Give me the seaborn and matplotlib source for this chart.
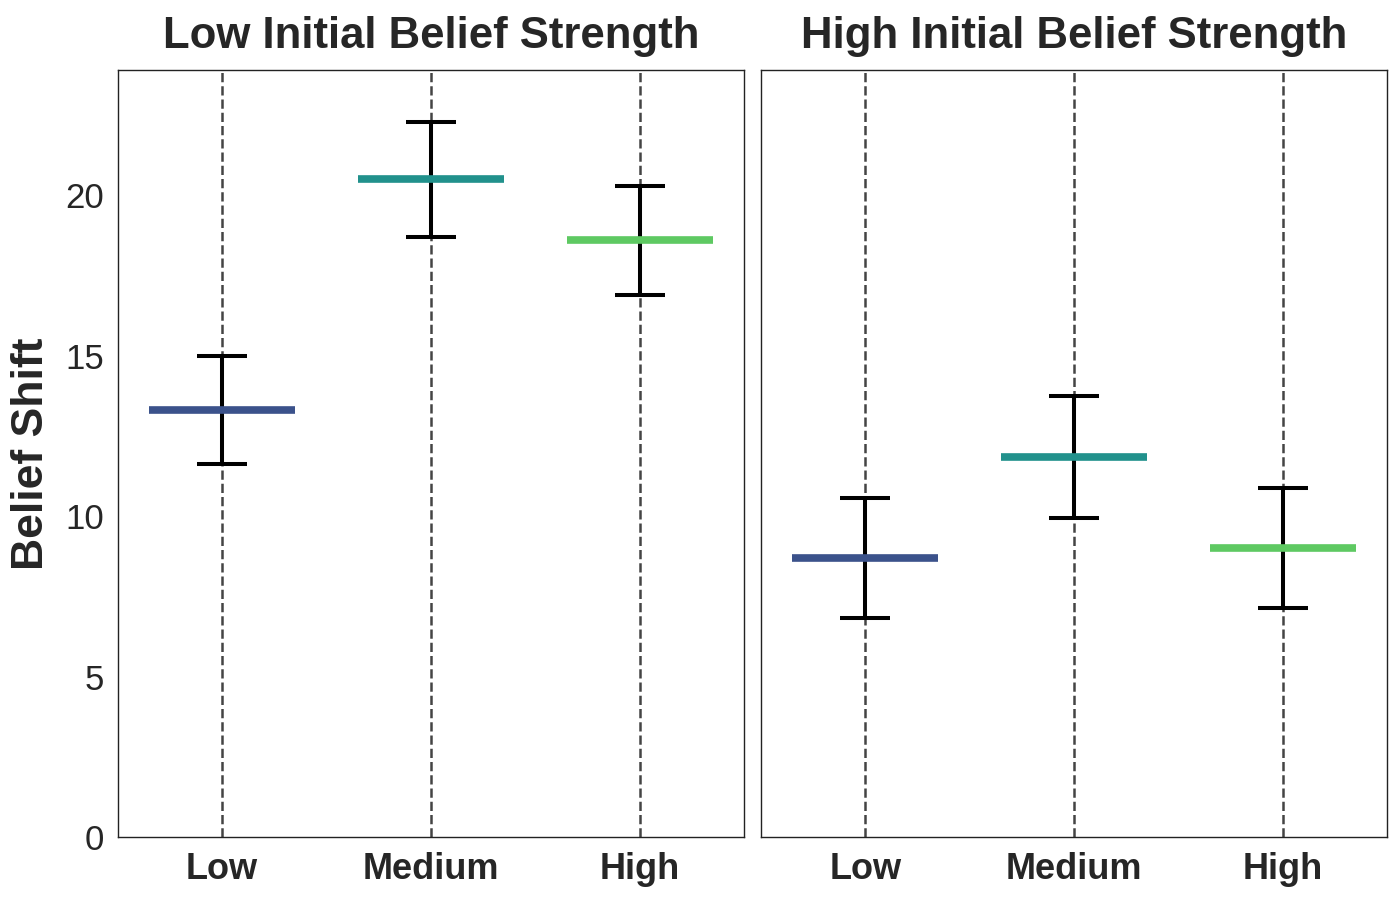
import numpy as np
import matplotlib
matplotlib.use('Agg')
import matplotlib.pyplot as plt
import seaborn as sns

# ── Data ──────────────────────────────────────────────
PANELS      = ['Low Initial Belief Strength', 'High Initial Belief Strength']
CATEGORIES  = ['Low', 'Medium', 'High']
MEANS_LOW   = [13.3, 20.5, 18.6]
ERR_LOW     = [1.68, 1.8, 1.7]
MEANS_HIGH  = [8.7, 11.85, 9.0]
ERR_HIGH    = [1.87, 1.9, 1.87]
COLORS      = ['#3b528b', '#21918c', '#5ec962']

sns.set_theme(style='white')
plt.rcParams['font.family'] = ['Liberation Sans', 'DejaVu Sans']

fig, axes = plt.subplots(1, 2, figsize=(14, 9), sharey=True)
x = np.arange(len(CATEGORIES))

for ax, title, means, errs in zip(axes, PANELS,
                                  [MEANS_LOW, MEANS_HIGH], [ERR_LOW, ERR_HIGH]):
    for xi in x:
        ax.axvline(xi, color='#444444', linestyle='--', linewidth=1.8, zorder=1)
    ax.errorbar(x, means, yerr=errs, fmt='none', ecolor='black',
                elinewidth=2.9, capsize=18, capthick=2.9, zorder=2)
    ax.hlines(means, x - 0.35, x + 0.35, colors=COLORS, linewidth=5.5, zorder=3)
    ax.set_title(title, fontsize=31.5, fontweight='bold', pad=16)
    ax.set_xticks(x)
    ax.set_xticklabels(CATEGORIES, fontsize=26, fontweight='bold')
    ax.set_xlim(-0.5, 2.5)
    ax.tick_params(axis='y', labelsize=25)
    ax.tick_params(axis='x', pad=5)
    for s in ax.spines.values():
        s.set_color('#222222')
        s.set_linewidth(1.0)

axes[0].set_ylim(0, 23.9)
axes[0].set_yticks([0, 5, 10, 15, 20])
axes[0].set_ylabel('Belief Shift', fontsize=32, fontweight='bold', labelpad=10)

plt.subplots_adjust(left=0.084, right=0.991, top=0.922, bottom=0.07, wspace=0.027)
plt.savefig('out.png', dpi=100)
plt.close()
